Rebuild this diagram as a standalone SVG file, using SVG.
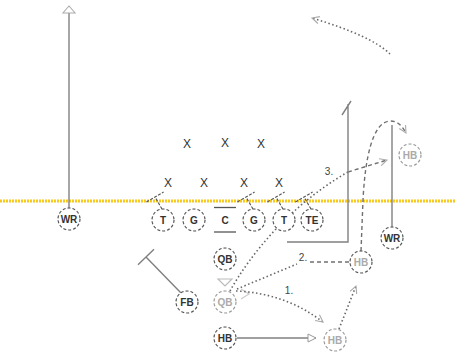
<svg xmlns="http://www.w3.org/2000/svg" width="456" height="357" viewBox="0 0 456 357">
<style>
.pc{fill:#fff;stroke:#555;stroke-width:1.2;stroke-dasharray:3 2}
.gc{fill:#fff;stroke:#999;stroke-width:1.2;stroke-dasharray:3 2}
.pt{font-family:"Liberation Sans",Arial,sans-serif;font-size:10px;font-weight:bold;fill:#333;text-anchor:middle}
.gt{font-family:"Liberation Sans",Arial,sans-serif;font-size:10px;font-weight:bold;fill:#aaa;text-anchor:middle}
.x{font-family:"Liberation Sans",Arial,sans-serif;font-size:12px;fill:#333;text-anchor:middle}
.lbl{font-family:"Liberation Sans",Arial,sans-serif;font-size:10px;fill:#444;text-anchor:middle}
.blk{fill:none;stroke:#555;stroke-width:1.1;stroke-dasharray:3 1.5}
.solid{fill:none;stroke:#808080;stroke-width:1.4}
.dot{fill:none;stroke:#666;stroke-width:1.6;stroke-dasharray:1.5 2.5}
.dash{fill:none;stroke:#707070;stroke-width:1.4;stroke-dasharray:4 3}
</style>
<defs>
<marker id="tri" viewBox="0 0 10 10" refX="9" refY="5" markerWidth="10" markerHeight="10" orient="auto" markerUnits="userSpaceOnUse">
<path d="M1,1 L9,5 L1,9 Z" fill="#fff" stroke="#999" stroke-width="1"/>
</marker>
<marker id="bigtri" viewBox="0 0 10 16" refX="9" refY="8" markerWidth="9" markerHeight="14" orient="auto" markerUnits="userSpaceOnUse">
<path d="M1,1 L9,8 L1,15 Z" fill="#fff" stroke="#aaa" stroke-width="1.2"/>
</marker>
<marker id="chev" viewBox="0 0 10 10" refX="9" refY="5" markerWidth="9" markerHeight="9" orient="auto" markerUnits="userSpaceOnUse">
<path d="M1,1 L9,5 L1,9" fill="none" stroke="#aaa" stroke-width="1.2"/>
</marker>
<path id="block" d="M-1,-11 L-8,-23 M-16.6,-18 L0.6,-28"/>
</defs>

<line id="los" x1="0" y1="201" x2="456" y2="201" stroke="#f8c81c" stroke-width="3" stroke-dasharray="2 1"/>

<g id="connectors">
<path class="solid" d="M69,208 L69,6" marker-end="url(#bigtri)"/>
<use href="#block" class="blk" x="163" y="220"/>
<use href="#block" class="blk" x="254" y="220"/>
<use href="#block" class="blk" x="284" y="220"/>
<use href="#block" class="blk" x="312" y="220"/>
<path class="solid" d="M181,293 L146,257 M138,264.7 L154,249.3"/>
<polygon points="218,279 232,279 225,286" fill="#fff" stroke="#bbb" stroke-width="1.2"/>
<path d="M241,289 L249,294 L241,299" fill="none" stroke="#ccc" stroke-width="1.2"/>
<path class="solid" d="M237,338 L316,338" marker-end="url(#tri)"/>
<path class="dot" d="M236,291 Q285,293 323,322" marker-end="url(#chev)"/>
<path class="dot" d="M237,289 L297,264"/>
<path class="dash" d="M310,262 L349,262"/>
<path class="dot" d="M230,291 C250,255 290,205 348,172"/>
<path class="dash" d="M348,172 L387,160" marker-end="url(#chev)"/>
<path class="dash" d="M361,251 L363,200 C365,160 372,122 390,121 C398,121 402,126 406,133" marker-end="url(#chev)"/>
<path class="dot" d="M390,54 Q372,36 312,18" marker-end="url(#chev)"/>
<path class="solid" d="M287,242 L348,242 L348,104 M342,115 L351,101"/>
<path class="solid" d="M392,227 L392,125"/>
<path class="dot" d="M339,329 L356,286" marker-end="url(#chev)"/>
<text class="lbl" x="289" y="294">1.</text>
<text class="lbl" x="303" y="261">2.</text>
<text class="lbl" x="329" y="175">3.</text>
</g>

<g id="wr-left"><circle class="pc" cx="69" cy="219" r="11"/><text class="pt" x="69" y="222.5">WR</text></g>
<g id="lt"><circle class="pc" cx="163" cy="220" r="11"/><text class="pt" x="163" y="223.5">T</text></g>
<g id="lg"><circle class="pc" cx="194" cy="220" r="11"/><text class="pt" x="194" y="223.5">G</text></g>
<g id="c"><line x1="214" y1="207.5" x2="236" y2="207.5" stroke="#555" stroke-width="1.3"/><line x1="214" y1="232" x2="236" y2="232" stroke="#555" stroke-width="1.3"/><text class="pt" x="225" y="223.5">C</text></g>
<g id="rg"><circle class="pc" cx="254" cy="220" r="11"/><text class="pt" x="254" y="223.5">G</text></g>
<g id="rt"><circle class="pc" cx="284" cy="220" r="11"/><text class="pt" x="284" y="223.5">T</text></g>
<g id="te"><circle class="pc" cx="312" cy="220" r="11"/><text class="pt" x="312" y="223.5">TE</text></g>
<g id="qb"><circle class="pc" cx="225" cy="259" r="11"/><text class="pt" x="225" y="262.5">QB</text></g>
<g id="qb-drop"><circle class="gc" cx="225" cy="302" r="11"/><text class="gt" x="225" y="305.5">QB</text></g>
<g id="fb"><circle class="pc" cx="187" cy="302" r="11"/><text class="pt" x="187" y="305.5">FB</text></g>
<g id="hb"><circle class="pc" cx="225" cy="338" r="11"/><text class="pt" x="225" y="341.5">HB</text></g>
<g id="hb-flat"><circle class="gc" cx="335" cy="340" r="11"/><text class="gt" x="335" y="343.5">HB</text></g>
<g id="hb-slot"><circle class="pc" cx="361" cy="262" r="11"/><text class="gt" x="361" y="265.5">HB</text></g>
<g id="hb-deep"><circle class="gc" cx="410" cy="155" r="11"/><text class="gt" x="410" y="158.5">HB</text></g>
<g id="wr-right"><circle class="pc" cx="392" cy="238" r="11"/><text class="pt" x="392" y="241.5">WR</text></g>

<g id="d1"><text class="x" x="187" y="148">X</text></g>
<g id="d2"><text class="x" x="225" y="147">X</text></g>
<g id="d3"><text class="x" x="261" y="148">X</text></g>
<g id="d4"><text class="x" x="168" y="187">X</text></g>
<g id="d5"><text class="x" x="204" y="187">X</text></g>
<g id="d6"><text class="x" x="244" y="187">X</text></g>
<g id="d7"><text class="x" x="279" y="187">X</text></g>
</svg>
